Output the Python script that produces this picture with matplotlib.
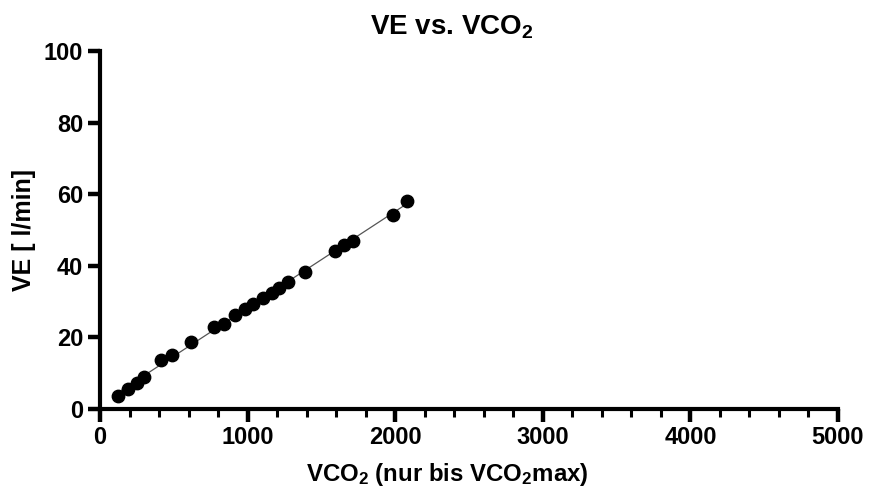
import matplotlib.pyplot as plt
import numpy as np

plt.rcParams['font.family'] = ['Liberation Sans', 'DejaVu Sans']
plt.rcParams['font.weight'] = 'bold'
plt.rcParams['mathtext.fontset'] = 'custom'
plt.rcParams['mathtext.rm'] = 'Liberation Sans:bold'
plt.rcParams['mathtext.bf'] = 'Liberation Sans:bold'
plt.rcParams['mathtext.default'] = 'bf'

# VCO2 (ml/min) und VE (l/min) pro Messpunkt
vco2 = [124, 192, 248, 300, 413, 485, 614, 774, 837, 915, 982, 1034, 1106,
        1162, 1213, 1271, 1386, 1594, 1656, 1716, 1987, 2081]
ve = [3.6, 5.5, 7.3, 9.0, 13.7, 15.2, 18.8, 23.0, 23.8, 26.3, 27.9, 29.2, 31.1,
      32.5, 33.9, 35.5, 38.4, 44.1, 45.7, 46.9, 54.3, 58.0]

x = np.array(vco2)
y = np.array(ve)

# lineare Regression
slope, intercept = np.polyfit(x, y, 1)
xfit = np.array([x.min(), x.max()])

fig = plt.figure(figsize=(8.69, 4.9), dpi=100)
ax = fig.add_axes([100 / 869, 81 / 490, 738 / 869, 358 / 490])

ax.plot(xfit, slope * xfit + intercept, color='#555555', lw=0.9, zorder=2)
ax.scatter(x, y, s=80, color='black', zorder=3, clip_on=False)

ax.set_xlim(0, 5000)
ax.set_ylim(0, 100)
ax.set_xticks(np.arange(0, 5001, 1000))
ax.set_xticks(np.arange(0, 5001, 200), minor=True)
ax.set_yticks(np.arange(0, 101, 20))

for s in ['top', 'right']:
    ax.spines[s].set_visible(False)
for s in ['left', 'bottom']:
    ax.spines[s].set_linewidth(3)

ax.tick_params(which='major', length=9, width=3.2, labelsize=17, pad=3)
ax.tick_params(which='minor', length=6, width=2.2)

ax.set_title('VE vs. VCO$_2$', fontsize=20, fontweight='bold', x=0.476, y=1.0, pad=12)
ax.set_xlabel('VCO$_2$ (nur bis VCO$_2$max)', fontsize=17.3, fontweight='bold')
ax.xaxis.set_label_coords(0.470, -0.145)
ax.set_ylabel('VE [ l/min]', fontsize=18, fontweight='bold', labelpad=6)

fig.savefig('out.png', dpi=100)
